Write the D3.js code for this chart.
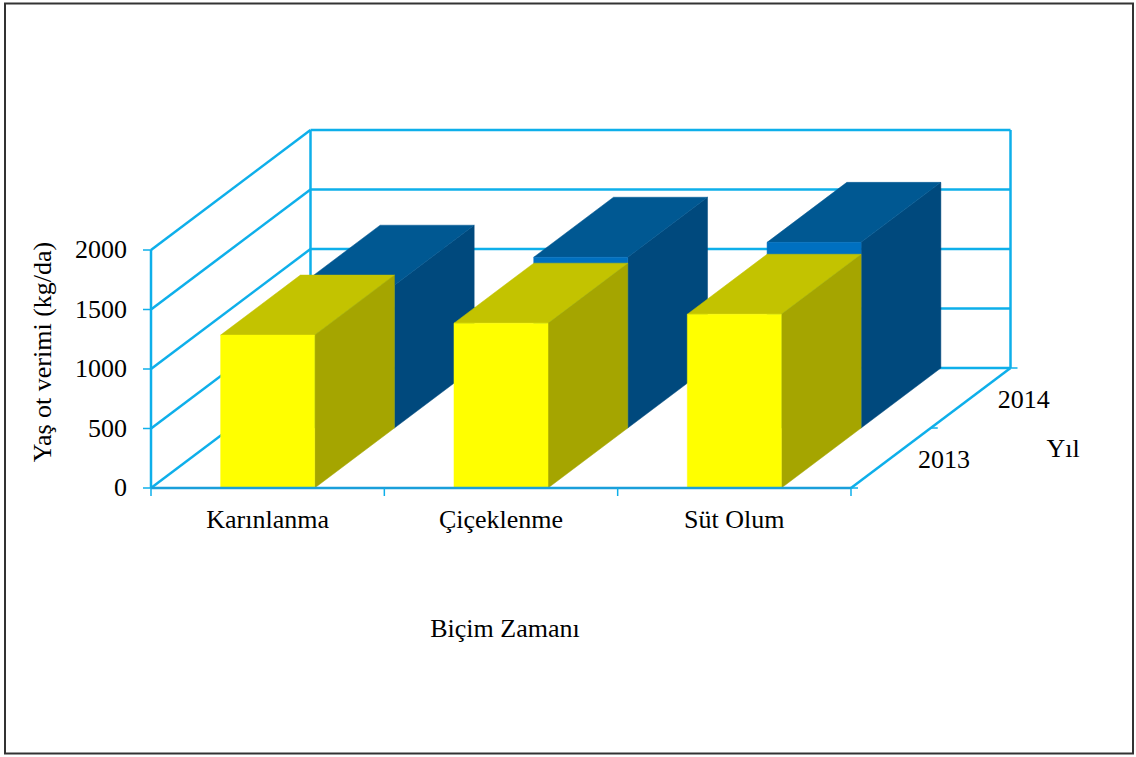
<!DOCTYPE html>
<html><head><meta charset="utf-8">
<script src="https://cdnjs.cloudflare.com/ajax/libs/d3/7.8.5/d3.min.js"></script>
<style>html,body{margin:0;padding:0;background:#fff}svg{display:block}</style>
</head><body>
<svg id="c" width="1136" height="757"></svg>
<script>
const categories = ["Karınlanma", "Çiçeklenme", "Süt Olum"];
const years = ["2013", "2014"];
const values2013 = [1285, 1385, 1460];
const values2014 = [1200, 1435, 1560];
const yTicks = [0, 500, 1000, 1500, 2000];
const yTitle = "Yaş ot verimi (kg/da)";
const xTitle = "Biçim Zamanı";
const zTitle = "Yıl";

const svg = d3.select("#c");
const font = "'Liberation Serif','Times New Roman',serif";
const axisCol = "#0EAFEA";
const FS = 26;

// border
svg.append("rect").attr("x", 5).attr("y", 3.5).attr("width", 1128).attr("height", 750)
  .attr("fill", "none").attr("stroke", "#333").attr("stroke-width", 2);

const x0 = 151, x1 = 851, yBase = 488;
const DX = 159.5, DY = -120;
const x = d3.scaleBand().domain(categories).range([x0, x1]);
const y = d3.scaleLinear().domain([0, 2000]).range([yBase, 250]);
const z = d3.scaleBand().domain(years).range([0, 1]);
const barFrac = 0.403;

const P = (px, py, d) => [px + DX * d, py + DY * d];
const line = (a, b, col, w) => svg.append("line").attr("x1", a[0]).attr("y1", a[1])
  .attr("x2", b[0]).attr("y2", b[1]).attr("stroke", col || axisCol).attr("stroke-width", w || 2.5);

// back wall gridlines
yTicks.forEach(t => {
  line(P(x0, y(t), 0), P(x0, y(t), 1));
  line(P(x0, y(t), 1), P(x1, y(t), 1));
});
line(P(x0, y(0), 1), P(x0, y(2000), 1));
line(P(x1, y(0), 1), P(x1, y(2000), 1));
line(P(x1, yBase, 0), P(x1, yBase, 1));
line([x0, yBase], [x0, y(2000)]);
yTicks.forEach(t => line([x0 - 8, y(t)], [x0, y(t)], axisCol, 1.5));
[0, 0.5, 1].forEach(d => { const p = P(x1, yBase, d); line(p, [p[0] + 7, p[1]], axisCol, 1.5); });

// bars
const series = [{year: "2014", vals: values2014, front: "#0070C0", top: "#005892", side: "#00497D"},
                {year: "2013", vals: values2013, front: "#FFFF00", top: "#C3C300", side: "#A5A500"}];
const poly = (pts, fill) => svg.append("polygon").attr("points", pts.map(p => p.join(",")).join(" "))
  .attr("fill", fill).attr("stroke", fill).attr("stroke-width", 0.5);
series.forEach(s => {
  const d0 = z(s.year), d1 = d0 + z.bandwidth();
  categories.forEach((c, i) => {
    const bw = x.bandwidth() * barFrac;
    const L = x(c) + (x.bandwidth() - bw) / 2, R = L + bw;
    const T = y(s.vals[i]), B = y(0);
    poly([P(R, B, d0), P(R, T, d0), P(R, T, d1), P(R, B, d1)], s.side);
    poly([P(L, T, d0), P(R, T, d0), P(R, T, d1), P(L, T, d1)], s.top);
    poly([P(L, T, d0), P(R, T, d0), P(R, B, d0), P(L, B, d0)], s.front);
  });
});

// front x axis
line([x0, yBase], [x1, yBase], "#1A9FDA", 2.5);
[0, 1, 2, 3].forEach(i => { const xx = x0 + i * x.step(); line([xx, yBase], [xx, yBase + 8], axisCol, 1.5); });

// texts
const txt = (t, px, py, anchor) => svg.append("text").attr("x", px).attr("y", py)
  .attr("text-anchor", anchor).attr("font-family", font).attr("font-size", FS).attr("fill", "#000").text(t);
yTicks.forEach(t => txt(String(t), 127, y(t) + 8, "end"));
categories.forEach(c => txt(c, x(c) + x.bandwidth() / 2, 528, "middle"));
years.forEach(yr => {
  const d = z(yr) + z.bandwidth() / 2;
  const p = P(x1, yBase, d);
  txt(yr, p[0] + 53, p[1] + 10, "middle");
});
txt(zTitle, 1063, 457, "middle");
txt(xTitle, 505, 637, "middle");
svg.append("text").attr("transform", "translate(51,352) rotate(-90)").attr("text-anchor", "middle")
  .attr("font-family", font).attr("font-size", FS).text(yTitle);
</script>
</body></html>
